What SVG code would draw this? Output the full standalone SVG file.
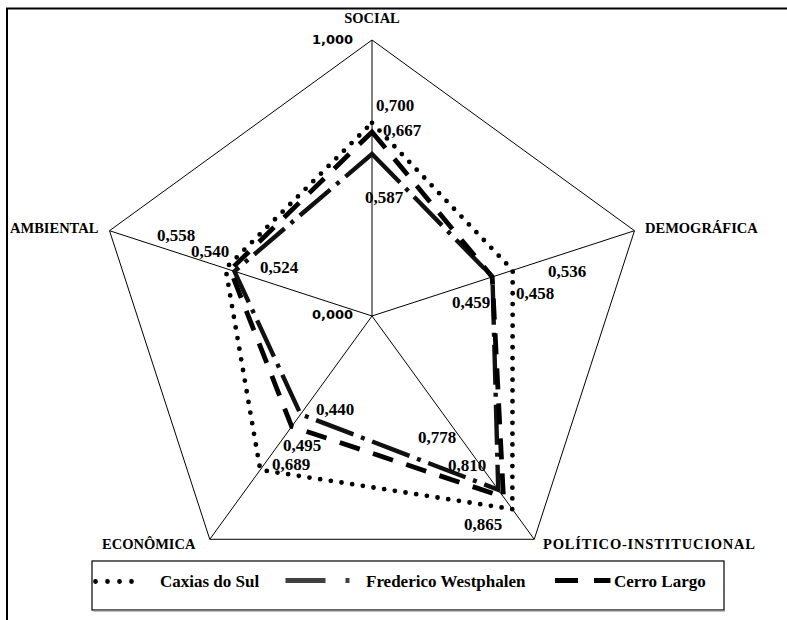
<svg xmlns="http://www.w3.org/2000/svg" width="787" height="620" viewBox="0 0 787 620">
<style>
.grid{fill:none;stroke:#000;stroke-width:1}
.cat{font-family:"Liberation Serif","Times New Roman",Tinos,"DejaVu Serif",serif;font-weight:bold;font-size:14.5px;fill:#000}
.val{font-family:"Liberation Serif","Times New Roman",Tinos,"DejaVu Serif",serif;font-weight:bold;font-size:17px;fill:#000}
.axv{font-family:"DejaVu Sans",Verdana,sans-serif;font-weight:bold;font-size:13px;fill:#000}
.leg{font-family:"Liberation Serif","Times New Roman",Tinos,"DejaVu Serif",serif;font-weight:bold;font-size:17px;fill:#000}
.caxias{fill:none;stroke:#000;stroke-width:4.8;stroke-linecap:round;stroke-dasharray:0 10.8}
.fred{fill:none;stroke:#111;stroke-width:4.4;stroke-dasharray:40 8 4 8}
.cerro{fill:none;stroke:#000;stroke-width:4.8;stroke-dasharray:21 14}
</style>
<rect x="0" y="0" width="787" height="620" fill="#fff"/>
<rect x="7" y="8.5" width="800" height="700" fill="none" stroke="#000" stroke-width="2"/>
<g id="grid">
<polygon class="grid" points="372,40 634.49,230.71 534.23,539.29 209.77,539.29 109.51,230.71"/>
<line class="grid" x1="372" y1="316" x2="372" y2="40"/>
<line class="grid" x1="372" y1="316" x2="634.49" y2="230.71"/>
<line class="grid" x1="372" y1="316" x2="534.23" y2="539.29"/>
<line class="grid" x1="372" y1="316" x2="209.77" y2="539.29"/>
<line class="grid" x1="372" y1="316" x2="109.51" y2="230.71"/>
</g>
<g id="categories">
<text id="social" class="cat" x="372" y="23" text-anchor="middle">SOCIAL</text>
<text id="demografica" class="cat" x="645" y="233">DEMOGRÁFICA</text>
<text id="politico" class="cat" x="543" y="549" textLength="212">POLÍTICO-INSTITUCIONAL</text>
<text id="economica" class="cat" x="102" y="549">ECONÔMICA</text>
<text id="ambiental" class="cat" x="10" y="233">AMBIENTAL</text>
<text class="axv" x="312" y="44">1,000</text>
<text class="axv" x="312" y="319">0,000</text>
</g>
<g id="connectors">
<polygon id="series-caxias" class="caxias" points="372,122.8 512.7,270.28 512.33,509.15 260.22,469.85 225.53,268.41"/>
<polygon id="series-fred" class="fred" points="372,153.99 492.48,276.85 498.22,489.72 300.62,414.25 234.45,271.31"/>
<polygon id="series-cerro" class="cerro" points="372,131.91 492.22,276.94 503.41,496.86 291.7,426.53 230.25,269.94"/>
</g>
<g id="values">
<text class="val" x="376" y="111">0,700</text>
<text class="val" x="383" y="136">0,667</text>
<text class="val" x="365" y="203">0,587</text>
<text class="val" x="157" y="241">0,558</text>
<text class="val" x="191" y="257">0,540</text>
<text class="val" x="260" y="273">0,524</text>
<text class="val" x="548" y="277">0,536</text>
<text class="val" x="516" y="299">0,458</text>
<text class="val" x="452" y="308">0,459</text>
<text class="val" x="316" y="415">0,440</text>
<text class="val" x="283" y="451">0,495</text>
<text class="val" x="272" y="470">0,689</text>
<text class="val" x="418" y="443">0,778</text>
<text class="val" x="448" y="471">0,810</text>
<text class="val" x="464" y="530">0,865</text>
</g>
<g id="legend">
<rect x="92" y="561" width="632" height="49" fill="none" stroke="#000" stroke-width="1.2"/>
<line x1="93" y1="611" x2="725" y2="611" stroke="#888" stroke-width="1.2"/>
<line x1="95.5" y1="581.5" x2="143.5" y2="581.5" stroke="#000" stroke-width="4.8" stroke-linecap="round" stroke-dasharray="0 12"/>
<text class="leg" x="160" y="587">Caxias do Sul</text>
<line x1="285.5" y1="580.5" x2="325.5" y2="580.5" stroke="#404040" stroke-width="5"/>
<rect x="345.5" y="578" width="4" height="5" fill="#404040"/>
<text class="leg" x="366" y="587">Frederico Westphalen</text>
<line x1="555" y1="580.5" x2="578" y2="580.5" stroke="#000" stroke-width="5"/>
<line x1="594" y1="580.5" x2="610.5" y2="580.5" stroke="#000" stroke-width="5"/>
<text class="leg" x="614" y="587">Cerro Largo</text>
</g>
</svg>
